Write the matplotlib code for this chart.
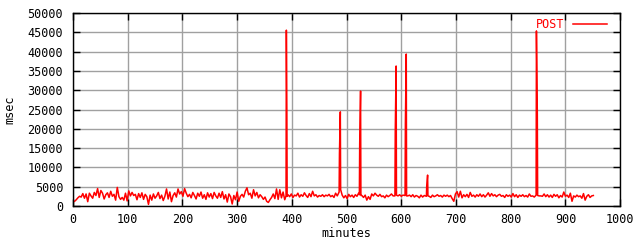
import matplotlib
matplotlib.use('Agg')
import matplotlib.pyplot as plt
import numpy as np

# baseline response time, one value every 3 minutes from 3 to 945
base_start, base_step = 3, 3
base_msec = [
    1200, 1600, 2100, 2500, 2300, 3200, 2000, 3100, 1100, 3300,
    2600, 2000, 3500, 2700, 4500, 2200, 4000, 3300, 1800, 2900,
    3400, 2200, 3800, 2500, 3000, 1500, 4800, 2400, 1700, 2200,
    1500, 3300, 1300, 3900, 2600, 3500, 2700, 3000, 1600, 3200,
    2200, 3400, 1700, 3000, 2400, 400, 2800, 1500, 3100, 2000,
    2600, 3500, 1900, 2800, 1400, 2500, 4400, 1800, 3600, 1100,
    2700, 3400, 2300, 4400, 3100, 3700, 2500, 4500, 3300, 2400,
    3000, 2100, 3500, 2700, 1800, 3300, 2500, 3600, 2000, 2900,
    1700, 3400, 2300, 3200, 1900, 3500, 2600, 2000, 3300, 2200,
    3700, 1800, 2900, 1000, 3100, 2400, 500, 2700, 1600, 3600,
    1200, 2500, 3000, 2300, 3800, 4700, 2900, 3300, 2000, 4200,
    2600, 3500, 2100, 2900, 2400, 1700, 2300, 1200, 900, 1600,
    2200, 3100, 1900, 4400, 1700, 4200, 2100, 3600, 1600, 2600,
    2900, 2400, 3100, 2200, 2800, 2600, 3300, 2300, 2900, 2500,
    3400, 2700, 2200, 3200, 2400, 3800, 2600, 2900, 2300, 2700,
    2500, 2900, 2400, 2800, 2600, 3000, 2400, 2700, 2200, 3300,
    2600, 2600, 2800, 2800, 2100, 2700, 1900, 3000, 2400, 2800,
    2200, 2900, 2500, 3300, 2700, 2700, 2200, 2800, 1500, 2400,
    1700, 3100, 2600, 3300, 2800, 2500, 3000, 2400, 2600, 2100,
    2800, 2400, 2700, 3100, 2600, 2600, 2600, 2600, 2900, 2500,
    2800, 2600, 2600, 2600, 2800, 2400, 2900, 2300, 2700, 2500,
    2100, 2800, 2300, 2700, 2500, 2500, 2500, 2200, 2800, 2400,
    2600, 2900, 2500, 2700, 2300, 2800, 2500, 2800, 2400, 2700,
    1900, 1200, 3100, 3700, 2300, 3800, 2100, 2900, 2400, 3000,
    2200, 3500, 2500, 2800, 2300, 2900, 2500, 3100, 2400, 2900,
    2300, 2800, 3400, 2500, 3200, 2600, 2900, 2400, 2800, 3000,
    2500, 2700, 2200, 2900, 2500, 2800, 2300, 3200, 2400, 2900,
    2200, 2800, 2500, 2900, 2400, 2700, 2300, 3100, 2500, 2600,
    2300, 2800, 2600, 2600, 2600, 2500, 3100, 2400, 2900, 2300,
    2800, 2200, 3000, 2500, 2900, 2100, 2700, 2300, 3600, 2500,
    2800, 2200, 3300, 1200, 2600, 2300, 2800, 2400, 2600, 2000,
    3200, 1500, 2500, 2900, 2200, 2600, 2700,
]

# spikes (minute, msec), each with its foot points
spike_min = [389.4, 390, 390.9, 391.4,
             486.4, 487, 488.6, 489.2,
             523.4, 524, 525.6, 526.2,
             588.4, 589, 590.6, 591.2,
             606.9, 607.5, 609.1, 609.7,
             645.9, 646.5, 648.1, 648.7,
             846.4, 847, 848.6, 849.2]
spike_msec = [2600, 45600, 24500, 2500,
              3600, 13500, 24400, 4200,
              2900, 16100, 29800, 2700,
              2600, 19200, 36300, 2800,
              2700, 21300, 39400, 2600,
              2500, 5200, 8000, 2600,
              2800, 45400, 23900, 2700]

xb = base_start + base_step * np.arange(len(base_msec))
yb = np.array(base_msec, dtype=float)
xs = np.array(spike_min)
keep = np.array([np.min(np.abs(xs - v)) > 1.0 for v in xb])
x = np.concatenate([xb[keep], xs])
y = np.concatenate([yb[keep], spike_msec])
order = np.argsort(x, kind='stable')
x, y = x[order], y[order]

plt.rcParams['font.family'] = 'DejaVu Sans Mono'
plt.rcParams['font.size'] = 8.5

fig = plt.figure(figsize=(6.4, 2.4), dpi=100)
ax = fig.add_axes([0.114, 0.142, 0.855, 0.803])

ax.plot(x, y, color='red', lw=1.1, label='POST')
ax.set_xlim(0, 1000)
ax.set_ylim(0, 50000)
ax.set_xticks(np.arange(0, 1001, 100))
ax.set_yticks(np.arange(0, 50001, 5000))
ax.grid(True, color='#a0a0a0', lw=1)
ax.set_axisbelow(True)
ax.tick_params(direction='in', top=True, right=True, length=5, width=1,
               colors='black', pad=5)
ax.tick_params(axis='y', pad=7)
for s in ax.spines.values():
    s.set_linewidth(1)
ax.set_xlabel('minutes', labelpad=1)
ax.set_ylabel('msec', labelpad=8)

leg = ax.legend(loc='upper right', bbox_to_anchor=(0.985, 1.0),
                frameon=False, handlelength=2.9, handletextpad=0.7,
                markerfirst=False, borderaxespad=0)
for t in leg.get_texts():
    t.set_color('red')

fig.savefig('out.png', dpi=100)
